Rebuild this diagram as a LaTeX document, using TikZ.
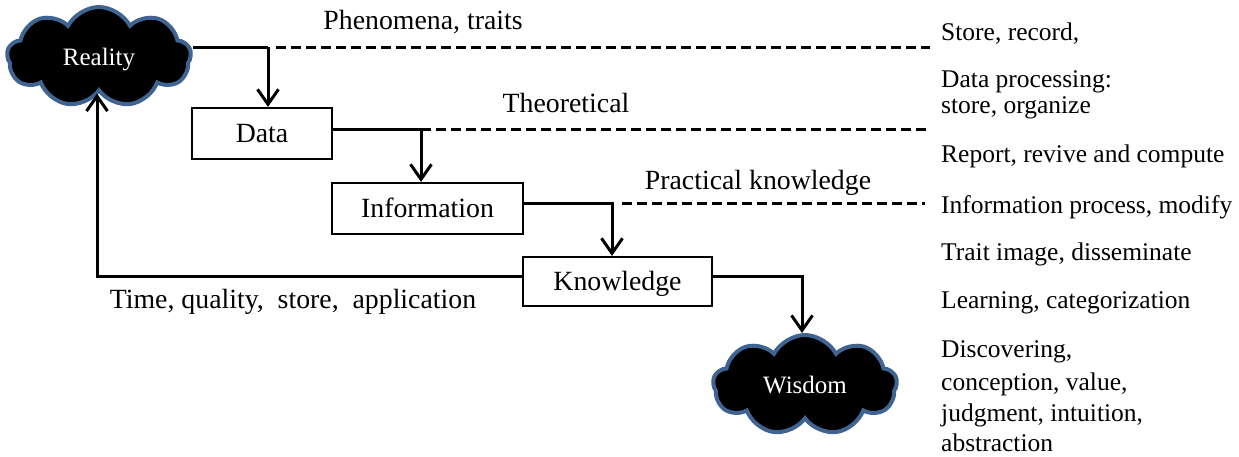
\documentclass[tikz,border=0pt]{standalone}
\usepackage{fontspec}
\setmainfont{Liberation Serif}
\usetikzlibrary{shapes.symbols,arrows.meta}
\definecolor{cloudblue}{RGB}{64,100,145}
\tikzset{
  cloudnode/.style={cloud, cloud puffs=9, cloud puff arc=125, aspect=1.9, fill=black, draw=cloudblue, line width=4pt, text=white, inner sep=0pt, text height=16.5pt, text depth=0pt, minimum width=184pt, minimum height=100pt, font=\fontsize{25}{30}\selectfont},
  boxnode/.style={draw, line width=2.2pt, fill=white, inner sep=0pt, text height=18.4pt, text depth=0pt, font=\fontsize{27.8}{32}\selectfont},
  lbl/.style={inner sep=0pt, font=\fontsize{27.8}{32}\selectfont},
  side/.style={inner sep=0pt, anchor=base west, font=\fontsize{25.5}{30}\selectfont},
  conn/.style={line width=3pt},
  arr/.style={conn, -{Straight Barb[length=15pt,width=21pt,line width=3pt]}},
  dashline/.style={line width=3pt, dash pattern=on 10pt off 5pt},
}
\begin{document}
\begin{tikzpicture}[x=1pt,y=-1pt]
\useasboundingbox (0,0) rectangle (1239,456);
% clouds
\node[cloudnode] (reality) at (99,57) {Reality};
\node[cloudnode] (wisdom) at (805,385) {Wisdom};
% boxes
\node[boxnode, minimum width=140pt, minimum height=51pt] (data) at (262,133.5) {Data};
\node[boxnode, minimum width=191pt, minimum height=51pt] (info) at (427.5,208.5) {Information};
\node[boxnode, minimum width=189pt, minimum height=49pt] (know) at (617.5,281.5) {Knowledge};
% junction coordinates
\coordinate (j1) at (268,47);
\coordinate (s1) at (276,47);
\coordinate (d1) at (930,47);
\coordinate (j2) at (421,129);
\coordinate (d2) at (930,129);
\coordinate (j3) at (612,203);
\coordinate (s3) at (622,203);
\coordinate (d3) at (925,203);
\coordinate (j4) at (802,276);
\coordinate (j5) at (97,276);
% connectors
\draw[conn] (reality.east |- j1) -- (j1);
\draw[arr] (j1) -- (j1 |- data.north);
\draw[dashline] (s1) -- (d1);
\draw[conn] (data.east |- j2) -- (j2);
\draw[arr] (j2) -- (j2 |- info.north);
\draw[dashline] (j2) -- (d2);
\draw[arr] (info.east |- j3) -- (j3) -- (j3 |- know.north);
\draw[dashline] (s3) -- (d3);
\draw[arr] (know.east |- j4) -- (j4) -- (j4 |- wisdom.north);
\draw[arr] (know.west |- j5) -- (j5) -- (reality.south -| j5);
% labels
\node[lbl] (l1) at (423,22) {Phenomena, traits};
\node[lbl] (l2) at (566,103) {Theoretical};
\node[lbl] (l3) at (758,183) {Practical knowledge};
\node[lbl] (l4) at (293,302) {Time, quality,\ \ store,\ \ application};
% side texts
\node[side] (r1) at (941,40) {Store, record,};
\node[side] (r2) at (941,87) {Data processing:};
\node[side] (r3) at (941,113) {store, organize};
\node[side] (r4) at (941,162) {Report, revive and compute};
\node[side] (r5) at (941,213) {Information process, modify};
\node[side] (r6) at (941,260) {Trait image, disseminate};
\node[side] (r7) at (941,308) {Learning, categorization};
\node[side] (r8) at (941,357) {Discovering,};
\node[side] (r9) at (941,390) {conception, value,};
\node[side] (r10) at (941,421) {judgment, intuition,};
\node[side] (r11) at (941,451) {abstraction};
\end{tikzpicture}
\end{document}
